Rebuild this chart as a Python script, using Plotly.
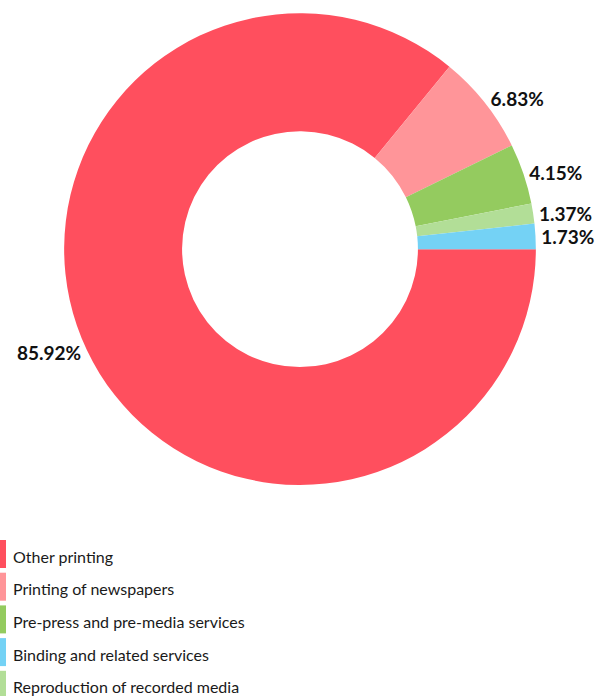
import plotly.graph_objects as go

# Slice data (drawing order, clockwise from 3 o'clock)
labels = ["Other printing", "Printing of newspapers", "Pre-press and pre-media services",
          "Reproduction of recorded media", "Binding and related services"]
values = [85.92, 6.83, 4.15, 1.37, 1.73]
colors = ["#FF4F5E", "#FF9599", "#94CB5F", "#B2DE97", "#74D2F5"]

# Legend order as shown in the chart
legend_labels = ["Other printing", "Printing of newspapers", "Pre-press and pre-media services",
                 "Binding and related services", "Reproduction of recorded media"]

W, H = 610, 696
color_of = dict(zip(labels, colors))

fig = go.Figure()
fig.add_trace(go.Pie(
    labels=labels,
    values=values,
    marker=dict(colors=colors, line=dict(width=0)),
    hole=0.5,
    sort=False,
    direction="clockwise",
    rotation=90,
    textposition="outside",
    texttemplate="%{value:.2f}%",
    textfont=dict(family="Lato", size=19, color="#111111", weight="bold"),
    showlegend=False,
    domain=dict(x=[64 / W, 536 / W], y=[1 - 485 / H, 1 - 13.3 / H]),
    hoverinfo="label+value",
))

# Custom legend: tall narrow swatches with labels
shapes = []
annotations = []
top0, step, sw_h, sw_w = 540, 32.7, 28, 6
for i, lab in enumerate(legend_labels):
    y0 = top0 + i * step
    shapes.append(dict(type="rect", xref="paper", yref="paper",
                       x0=0, x1=sw_w / W, y0=1 - (y0 + sw_h) / H, y1=1 - y0 / H,
                       fillcolor=color_of[lab], line=dict(width=0)))
    annotations.append(dict(text=lab, xref="paper", yref="paper",
                            x=11 / W, y=1 - (y0 + sw_h / 2 + 2) / H,
                            xanchor="left", yanchor="middle", showarrow=False,
                            font=dict(family="Lato", size=16, color="#1a1a1a")))

fig.update_layout(
    width=W, height=H,
    margin=dict(l=0, r=0, t=0, b=0),
    paper_bgcolor="white", plot_bgcolor="white",
    shapes=shapes, annotations=annotations,
    showlegend=False,
)

fig.write_html("out.html", config={"displayModeBar": False},
               post_script="document.body.style.margin='0';document.body.style.overflow='hidden';")
